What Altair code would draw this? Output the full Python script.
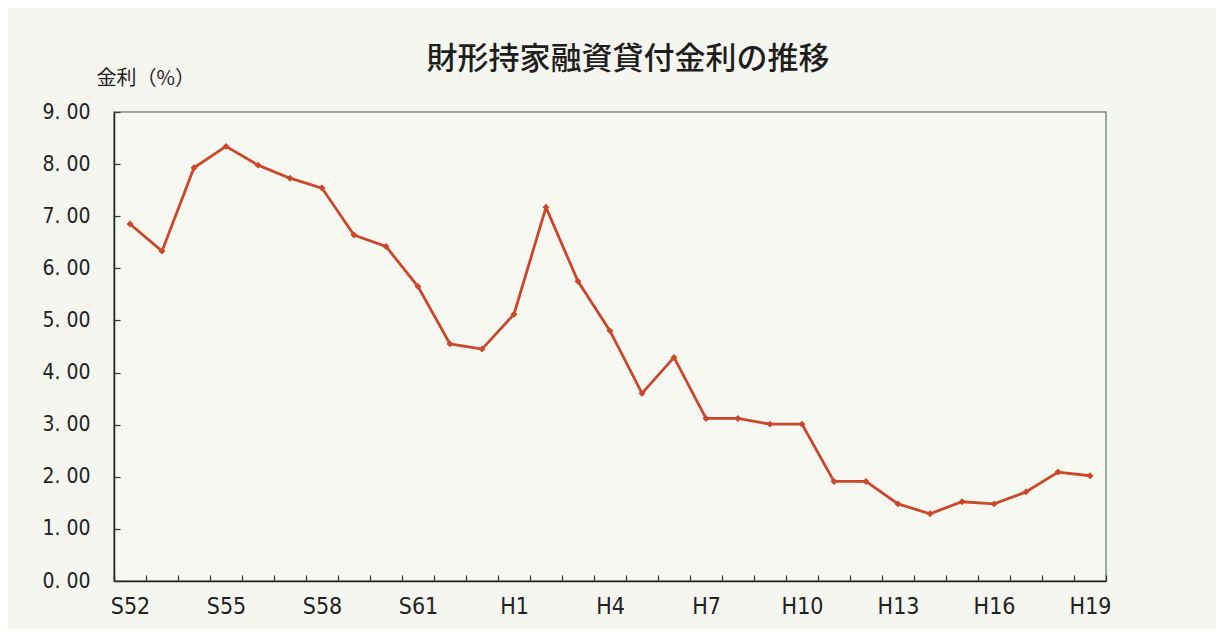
import altair as alt
import pandas as pd

years = ["S52", "S53", "S54", "S55", "S56", "S57", "S58", "S59", "S60", "S61", "S62", "S63",
         "H1", "H2", "H3", "H4", "H5", "H6", "H7", "H8", "H9", "H10", "H11", "H12",
         "H13", "H14", "H15", "H16", "H17", "H18", "H19"]
rates = [6.85, 6.33, 7.93, 8.34, 7.98, 7.73, 7.54, 6.64, 6.42, 5.65, 4.55, 4.45,
         5.12, 7.17, 5.75, 4.80, 3.60, 4.29, 3.12, 3.12, 3.01, 3.01, 1.91, 1.91,
         1.48, 1.29, 1.52, 1.48, 1.71, 2.09, 2.02]
shown_labels = ["S52", "S55", "S58", "S61", "H1", "H4", "H7", "H10", "H13", "H16", "H19"]
y_ticks = [0, 1, 2, 3, 4, 5, 6, 7, 8, 9]

df = pd.DataFrame({"year": years, "rate": rates})

LINE = "#cc472a"
FONT = "Liberation Sans Narrow, DejaVu Sans Condensed, Liberation Sans, sans-serif"
label_list = "[" + ",".join("'%s'" % s for s in shown_labels) + "]"

x_scale = alt.Scale(type="band", paddingInner=0, paddingOuter=0)
y_scale = alt.Scale(domain=[0, 9], nice=False, zero=True)

x_main = alt.X("year:N", sort=years, scale=x_scale, bandPosition=0.5,
               axis=alt.Axis(title=None, tickBand="extent", labelAngle=0, tickSize=0,
                             labelExpr="indexof(%s, datum.value) >= 0 ? datum.value : ''" % label_list,
                             labelFont=FONT, labelFontSize=23, labelColor="#222",
                             labelPadding=14, domainColor="#222", domainWidth=1.5,
                             labelOverlap=False, grid=False))
y_main = alt.Y("rate:Q", scale=y_scale,
               axis=alt.Axis(title="金利（%）", titleAngle=0, titleAlign="left",
                             titleBaseline="middle", titleX=-18, titleY=-34,
                             titleFont="Noto Sans CJK JP", titleFontSize=20,
                             titleFontWeight="normal", titleColor="#222",
                             values=y_ticks, tickSize=0, labelPadding=24,
                             labelExpr="replace(format(datum.value, '.2f'), '.', '. ')",
                             labelFont=FONT, labelFontSize=21, labelColor="#222",
                             domainColor="#222", domainWidth=1.5, grid=False))

line = alt.Chart(df).mark_line(color=LINE, strokeWidth=2.8).encode(x=x_main, y=y_main)
pts = alt.Chart(df).mark_point(shape="diamond", filled=True, color=LINE, size=48, opacity=1).encode(
    x=alt.X("year:N", sort=years, scale=x_scale, bandPosition=0.5),
    y=alt.Y("rate:Q", scale=y_scale))

ticks_layer = alt.Chart(df).mark_point(opacity=0).encode(
    x=alt.X("year:N", sort=years, scale=x_scale, bandPosition=0.5,
            axis=alt.Axis(title=None, orient="bottom", offset=-6, tickSize=6, tickBand="extent",
                          labels=False, domain=False, tickColor="#333", tickWidth=1.2)),
    y=alt.Y("rate:Q", scale=y_scale,
            axis=alt.Axis(title=None, orient="left", offset=-6, tickSize=6, values=y_ticks,
                          labels=False, domain=False, tickColor="#333", tickWidth=1.2)))

chart = alt.layer(line + pts, ticks_layer).resolve_axis(x="independent", y="independent").properties(
    width=992, height=469,
    autosize=alt.AutoSizeParams(type="none"),
    padding={"left": 106, "top": 104, "right": 110, "bottom": 48},
    background="#f6f6f0",
    title=alt.TitleParams("財形持家融資貸付金利の推移", font="Noto Sans CJK JP", fontSize=31,
                          fontWeight=500, color="#1e1e1e", anchor="middle", dx=18, offset=-8),
).configure_view(stroke="#7f8f80", strokeWidth=1.5, fill="#f8f8f3")

chart.save("out.html", embed_options={"renderer": "svg", "actions": False})
